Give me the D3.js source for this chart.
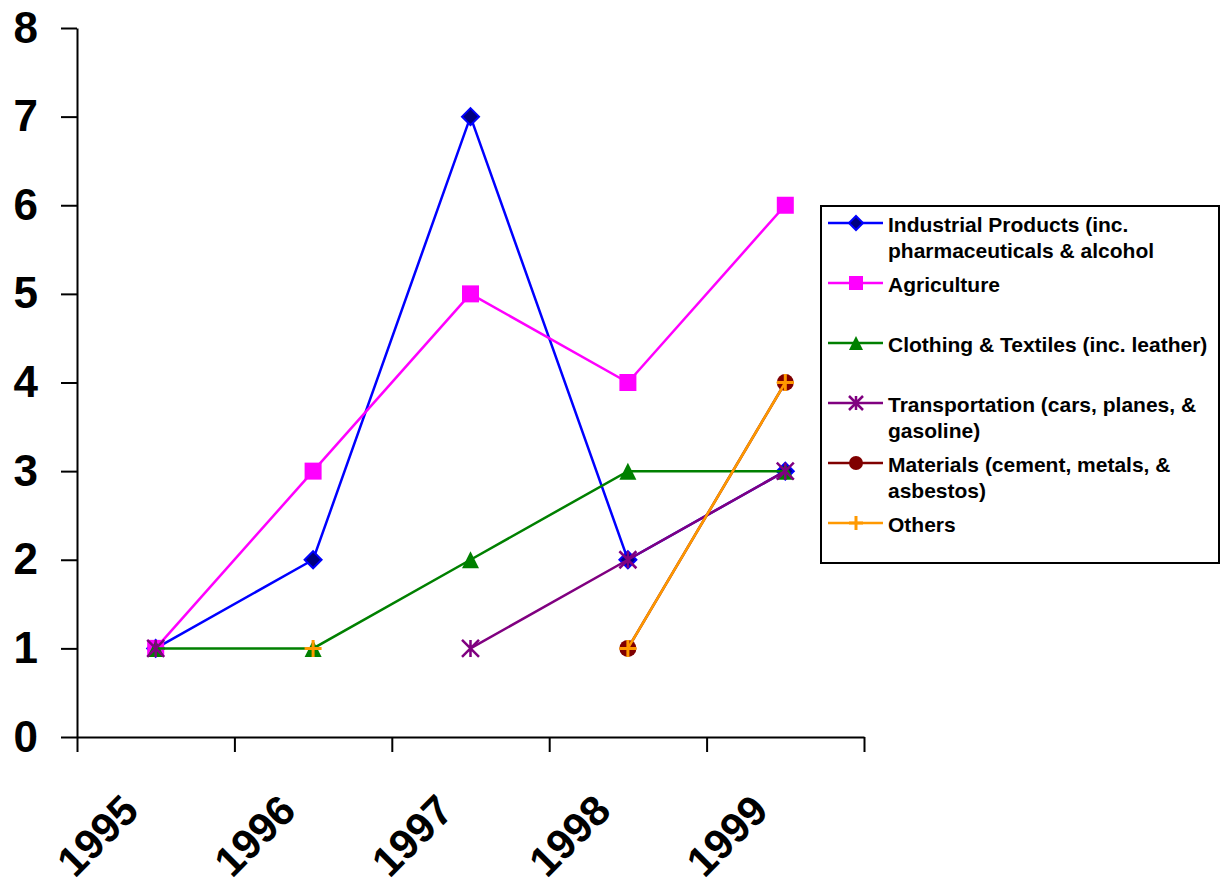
<!DOCTYPE html>
<html>
<head>
<meta charset="utf-8">
<script src="https://cdn.jsdelivr.net/npm/d3@7"></script>
<style>
  body { margin: 0; background: #fff; }
  text { font-family: "Liberation Sans", Arial, sans-serif; font-weight: bold; }
</style>
</head>
<body>
<script>
// categories and series (null = no value that year)
const years = ["1995", "1996", "1997", "1998", "1999"];
const seriesNames = [
  "Industrial Products (inc. pharmaceuticals & alcohol",
  "Agriculture",
  "Clothing & Textiles (inc. leather)",
  "Transportation (cars, planes, & gasoline)",
  "Materials (cement, metals, & asbestos)",
  "Others"
];
const industrial = [1, 2, 7, 2, 3];
const agriculture = [1, 3, 5, 4, 6];
const clothing = [1, 1, 2, 3, 3];
const transportation = [1, null, 1, 2, 3];
const materials = [null, null, null, 1, 4];
const others = [null, 1, null, 1, 4];
const yTicks = [0, 1, 2, 3, 4, 5, 6, 7, 8];

const colors = ["#0000ff", "#ff00ff", "#008000", "#800080", "#800000", "#ff9900"];
const markers = ["diamond", "square", "triangle", "asterisk", "circle", "plus"];
const values = [industrial, agriculture, clothing, transportation, materials, others];

const series = seriesNames.map((name, i) => ({
  name, color: colors[i], marker: markers[i],
  points: years.map((yr, j) => ({year: yr, value: values[i][j]}))
}));

const width = 1222, height = 888;
const marginLeft = 77, plotRight = 864, marginTop = 28, plotBottom = 737;

const x = d3.scaleBand(years, [marginLeft, plotRight]).padding(0);
const xEdges = d3.scaleLinear([0, years.length], [marginLeft, plotRight]);
const y = d3.scaleLinear([0, 8], [plotBottom, marginTop]);
const cx = d => x(d) + x.bandwidth() / 2;

const svg = d3.select("body").append("svg")
    .attr("width", width)
    .attr("height", height)
    .attr("viewBox", [0, 0, width, height]);

svg.append("rect").attr("width", width).attr("height", height).attr("fill", "#fff");

// y axis
svg.append("g")
    .attr("transform", `translate(${marginLeft},0)`)
    .call(d3.axisLeft(y).tickValues(yTicks).tickFormat(d3.format("d")).tickSize(16).tickSizeOuter(0).tickPadding(23))
    .call(g => g.select(".domain").attr("stroke-width", 2))
    .call(g => g.selectAll(".tick line").attr("stroke-width", 2))
    .call(g => g.selectAll(".tick text")
        .attr("font-size", 44)
        .attr("font-family", "'Liberation Sans', Arial, sans-serif")
        .attr("font-weight", "bold")
        .attr("fill", "#000"));

// x axis: ticks on category edges, labels at category centres
svg.append("g")
    .attr("transform", `translate(0,${plotBottom})`)
    .call(d3.axisBottom(xEdges).ticks(years.length).tickFormat("").tickSize(15).tickSizeOuter(0))
    .call(g => g.select(".domain").attr("stroke-width", 2))
    .call(g => g.selectAll(".tick line").attr("stroke-width", 2));

svg.append("g")
    .selectAll("text")
    .data(years)
    .join("text")
    .attr("transform", d => `translate(${cx(d) - 15},${plotBottom + 76}) rotate(-45)`)
    .attr("text-anchor", "end")
    .attr("font-size", 42)
    .text(d => d);

// marker shapes
function drawMarker(g, type, color, s) {
  if (type === "diamond") {
    g.append("path").attr("d", `M0,${-s}L${s},0L0,${s}L${-s},0Z`)
      .attr("fill", "#000080").attr("stroke", color).attr("stroke-width", 2);
  } else if (type === "square") {
    g.append("rect").attr("x", -s).attr("y", -s).attr("width", 2 * s).attr("height", 2 * s)
      .attr("fill", color);
  } else if (type === "triangle") {
    g.append("path").attr("d", `M0,${-s}L${s},${s}L${-s},${s}Z`).attr("fill", color);
  } else if (type === "asterisk") {
    g.append("path").attr("d", `M${-s},${-s}L${s},${s}M${s},${-s}L${-s},${s}M0,${-s}L0,${s}`)
      .attr("stroke", color).attr("stroke-width", 2.5).attr("fill", "none");
  } else if (type === "circle") {
    g.append("circle").attr("r", s).attr("fill", color);
  } else if (type === "plus") {
    g.append("path").attr("d", `M${-s},0L${s},0M0,${-s}L0,${s}`)
      .attr("stroke", color).attr("stroke-width", 3).attr("fill", "none");
  }
}

const line = d3.line()
    .defined(d => d.value != null)
    .x(d => cx(d.year))
    .y(d => y(d.value));

series.forEach(s => {
  const g = svg.append("g");
  g.append("path")
      .attr("d", line(s.points))
      .attr("fill", "none")
      .attr("stroke", s.color)
      .attr("stroke-width", 2.5);
  g.selectAll("g")
    .data(s.points.filter(d => d.value != null))
    .join("g")
    .attr("transform", d => `translate(${cx(d.year)},${y(d.value)})`)
    .each(function() { drawMarker(d3.select(this), s.marker, s.color, 8.5); });
});

// legend
const legendX = 821, legendY = 206, legendW = 398, legendH = 357;
const legend = svg.append("g");
legend.append("rect")
    .attr("x", legendX).attr("y", legendY)
    .attr("width", legendW).attr("height", legendH)
    .attr("fill", "#fff").attr("stroke", "#000").attr("stroke-width", 2);

const entry = legend.selectAll("g")
    .data(series)
    .join("g")
    .attr("transform", (d, i) => `translate(0,${223 + i * 60})`);

entry.append("line")
    .attr("x1", 828).attr("x2", 883)
    .attr("stroke", d => d.color).attr("stroke-width", 2.5);
entry.each(function(d) {
  const m = d3.select(this).append("g").attr("transform", "translate(856,0)");
  drawMarker(m, d.marker, d.color, 7);
});

// greedy word wrap for legend labels
const maxW = 325;
entry.append("text")
    .attr("x", 888)
    .attr("y", 8.5)
    .attr("font-size", 21)
    .each(function(d) {
      const t = d3.select(this);
      const words = d.name.split(" ");
      let tspan = t.append("tspan").attr("x", 888).attr("dy", 0);
      let cur = [];
      words.forEach(w => {
        cur.push(w);
        tspan.text(cur.join(" "));
        if (tspan.node().getComputedTextLength() > maxW && cur.length > 1) {
          cur.pop();
          tspan.text(cur.join(" "));
          cur = [w];
          tspan = t.append("tspan").attr("x", 888).attr("dy", 26).text(w);
        }
      });
    });
</script>
</body>
</html>
